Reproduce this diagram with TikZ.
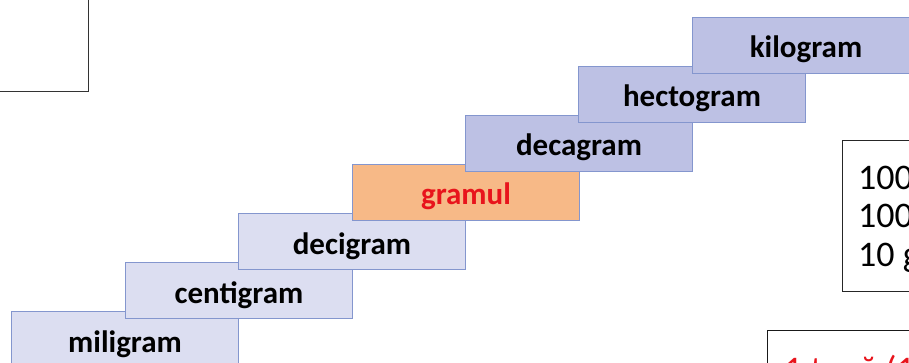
\documentclass[tikz,border=0pt]{standalone}
\usepackage{fontspec}
\setmainfont{Carlito}
\definecolor{stepdark}{HTML}{BDC1E4}
\definecolor{steplight}{HTML}{DCDEF1}
\definecolor{stepline}{HTML}{8496CE}
\definecolor{steporange}{HTML}{F7B987}
\definecolor{stepred}{HTML}{E8141C}
\begin{document}
\begin{tikzpicture}[x=1pt,y=-1pt,
  stepbox/.style={draw=stepline, line width=1pt, anchor=north west, inner sep=0pt,
    minimum width=227pt, minimum height=56pt, text height=31pt, text depth=6pt,
    font=\fontsize{31}{36}\selectfont\bfseries},
  lightbox/.style={stepbox, fill=steplight},
  darkbox/.style={stepbox, fill=stepdark},
  orangebox/.style={stepbox, fill=steporange, text=stepred},
  framebox/.style={draw=black!80, line width=1.2pt, anchor=north west, inner sep=0pt},
  infotext/.style={anchor=base west, inner sep=0pt, font=\fontsize{36}{42}\selectfont}
]
\useasboundingbox (0,0) rectangle (909,363);
\clip (0,0) rectangle (909,363);
% top-left frame
\node[framebox, minimum width=120pt, minimum height=120pt] (tl) at (-32,-29) {};
% staircase
\node[lightbox] (mili) at (11,311) {miligram};
\node[lightbox] (centi) at (125,262) {centigram};
\node[lightbox] (deci) at (238,213) {decigram};
\node[orangebox] (gram) at (352,164) {gramul};
\node[darkbox] (deca) at (465,115) {decagram};
\node[darkbox] (hecto) at (578,66) {hectogram};
\node[darkbox] (kilo) at (692,17) {kilogram};
% right info box
\node[framebox, draw=black!85, line width=1pt, minimum width=90pt, minimum height=151pt] (info) at (842,140) {};
\node[infotext] (l1) at (858,190) {100};
\node[infotext] (l2) at (858,228) {100};
\node[infotext] (l3) at (858,266) {10 g};
% bottom-right red box
\node[framebox, draw=black!90, minimum width=160pt, minimum height=60pt] (ton) at (767,330) {};
\node[infotext, text=stepred] (tontext) at (784,381) {1 tonă (1};
\end{tikzpicture}
\end{document}
